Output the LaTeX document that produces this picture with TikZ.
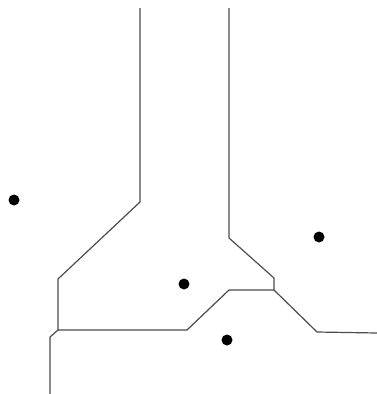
\documentclass[tikz,border=0pt]{standalone}
\begin{document}
\begin{tikzpicture}[x=1pt,y=-1pt,
  edge/.style={draw=black!70,line width=1.2pt,line join=round},
  site/.style={circle,fill=black,inner sep=0pt,minimum size=11pt}]
\useasboundingbox[fill=white] (0,0) rectangle (377,394);
% vertices
\coordinate (a0) at (140,8);
\coordinate (a1) at (140,202);
\coordinate (a2) at (58,279);
\coordinate (j1) at (58,330);
\coordinate (b1) at (50,337);
\coordinate (b2) at (50,394);
\coordinate (c1) at (187,330);
\coordinate (c2) at (229,290);
\coordinate (j2) at (274,290);
\coordinate (d0) at (229,8);
\coordinate (d1) at (229,238);
\coordinate (d2) at (274,278);
\coordinate (e1) at (317,332);
\coordinate (e2) at (377,333);
% edges
\draw[edge] (a0) -- (a1) -- (a2) -- (j1) -- (b1) -- (b2);
\draw[edge] (j1) -- (c1) -- (c2) -- (j2);
\draw[edge] (d0) -- (d1) -- (d2) -- (j2) -- (e1) -- (e2);
% sites
\node[site] (s1) at (14,200) {};
\node[site] (s2) at (184,284) {};
\node[site] (s3) at (319,237) {};
\node[site] (s4) at (227,340) {};
\end{tikzpicture}
\end{document}
